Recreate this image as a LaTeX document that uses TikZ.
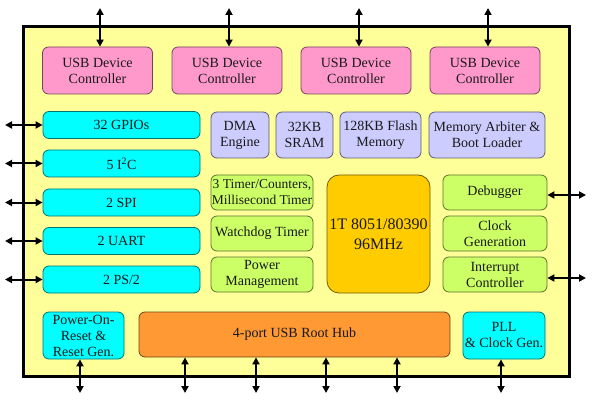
\documentclass[tikz,border=0pt]{standalone}
\usepackage{fontspec}
\setmainfont{Liberation Serif}
\usetikzlibrary{arrows.meta}
\definecolor{cPink}{HTML}{FF99CC}
\definecolor{cCyan}{HTML}{00FFFF}
\definecolor{cLav}{HTML}{CCCCFF}
\definecolor{cGreen}{HTML}{CCFF66}
\definecolor{cGold}{HTML}{FFCC00}
\definecolor{cOrange}{HTML}{FF9933}
\definecolor{cBack}{HTML}{FFFF99}
\tikzset{
  blk/.style={rectangle, rounded corners=6pt, fill=#1, draw=#1!45!black, line width=0.8pt,
    inner sep=0pt, align=center, font=\fontsize{14}{16}\selectfont, text=black!90},
  io/.style={line width=2pt, {Triangle[length=7pt,width=7pt]}-{Triangle[length=7pt,width=7pt]}},
}
\begin{document}
\begin{tikzpicture}[x=1pt,y=-1pt]
\useasboundingbox (0,0) rectangle (600,401);
\node[rectangle, draw=black, fill=cBack, line width=3pt, minimum width=546pt, minimum height=349pt, inner sep=0pt] (chip) at (296,201.5) {};

% USB device controllers
\node[blk=cPink, minimum width=110pt, minimum height=47pt] (usb1) at (97.5,70.5) {USB Device\\Controller};
\node[blk=cPink, minimum width=110pt, minimum height=47pt] (usb2) at (227,70.5) {USB Device\\Controller};
\node[blk=cPink, minimum width=110pt, minimum height=47pt] (usb3) at (356,70.5) {USB Device\\Controller};
\node[blk=cPink, minimum width=110pt, minimum height=47pt] (usb4) at (485,70.5) {USB Device\\Controller};

% left peripherals
\node[blk=cCyan, minimum width=157pt, minimum height=27pt] (gpio) at (121.5,125) {32 GPIOs};
\node[blk=cCyan, minimum width=157pt, minimum height=27pt] (i2c) at (121.5,163.5) {5 I\textsuperscript{2}C};
\node[blk=cCyan, minimum width=157pt, minimum height=27pt] (spi) at (121.5,202.5) {2 SPI};
\node[blk=cCyan, minimum width=157pt, minimum height=27pt] (uart) at (121.5,241) {2 UART};
\node[blk=cCyan, minimum width=157pt, minimum height=27pt] (ps2) at (121.5,279.5) {2 PS/2};

% memory row
\node[blk=cLav, minimum width=58pt, minimum height=46pt] (dma) at (240,135) {DMA\\Engine};
\node[blk=cLav, minimum width=57pt, minimum height=46pt] (sram) at (304.5,135) {32KB\\SRAM};
\node[blk=cLav, minimum width=81pt, minimum height=46pt] (flash) at (380.5,135) {128KB Flash\\Memory};
\node[blk=cLav, minimum width=116pt, minimum height=46pt] (arb) at (487,135) {Memory Arbiter \&\\Boot Loader};

% green left
\node[blk=cGreen, minimum width=102pt, minimum height=35pt, font=\fontsize{13.5}{16}\selectfont] (timer) at (262,192.5) {3 Timer/Counters,\\Millisecond Timer};
\node[blk=cGreen, minimum width=102pt, minimum height=35pt] (wdt) at (262,233.5) {Watchdog Timer};
\node[blk=cGreen, minimum width=102pt, minimum height=35pt] (pwr) at (262,274.5) {Power\\Management};

% CPU
\node[blk=cGold, rounded corners=12pt, minimum width=103pt, minimum height=118pt, font=\fontsize{16}{20}\selectfont] (cpu) at (378.5,234) {1T 8051/80390\\96MHz};

% green right
\node[blk=cGreen, minimum width=104pt, minimum height=35pt] (dbg) at (495,192.5) {Debugger};
\node[blk=cGreen, minimum width=104pt, minimum height=35pt] (clk) at (495,233.5) {Clock\\Generation};
\node[blk=cGreen, minimum width=104pt, minimum height=35pt] (irq) at (495,274.5) {Interrupt\\Controller};

% bottom row
\node[blk=cCyan, minimum width=81pt, minimum height=47pt] (por) at (83.5,335.5) {Power-On-\\Reset \&\\Reset Gen.};
\node[blk=cOrange, minimum width=311pt, minimum height=45pt] (hub) at (294.5,334.5) {4-port USB Root Hub};
\node[blk=cCyan, minimum width=82pt, minimum height=47pt] (pll) at (504,335.5) {PLL\\\& Clock Gen.};

% free ends
\coordinate (t1) at (100,8);
\coordinate (t2) at (229,8);
\coordinate (t3) at (359,8);
\coordinate (t4) at (488,8);
\coordinate (l1) at (5,125);
\coordinate (l2) at (5,163.5);
\coordinate (l3) at (5,202.5);
\coordinate (l4) at (5,241);
\coordinate (l5) at (5,279.5);
\coordinate (r1) at (586,195);
\coordinate (r2) at (586,278);
\coordinate (b0) at (80,393);
\coordinate (b1) at (185,393);
\coordinate (b2) at (256,393);
\coordinate (b3) at (326,393);
\coordinate (b4) at (397,393);
\coordinate (b5) at (501,393);

\draw[io] (usb1.north -| t1) -- (t1);
\draw[io] (usb2.north -| t2) -- (t2);
\draw[io] (usb3.north -| t3) -- (t3);
\draw[io] (usb4.north -| t4) -- (t4);
\draw[io] (gpio.west |- l1) -- (l1);
\draw[io] (i2c.west |- l2) -- (l2);
\draw[io] (spi.west |- l3) -- (l3);
\draw[io] (uart.west |- l4) -- (l4);
\draw[io] (ps2.west |- l5) -- (l5);
\draw[io] (dbg.east |- r1) -- (r1);
\draw[io] (irq.east |- r2) -- (r2);
\draw[io] (por.south -| b0) -- (b0);
\draw[io] (hub.south -| b1) -- (b1);
\draw[io] (hub.south -| b2) -- (b2);
\draw[io] (hub.south -| b3) -- (b3);
\draw[io] (hub.south -| b4) -- (b4);
\draw[io] (pll.south -| b5) -- (b5);
\end{tikzpicture}
\end{document}
